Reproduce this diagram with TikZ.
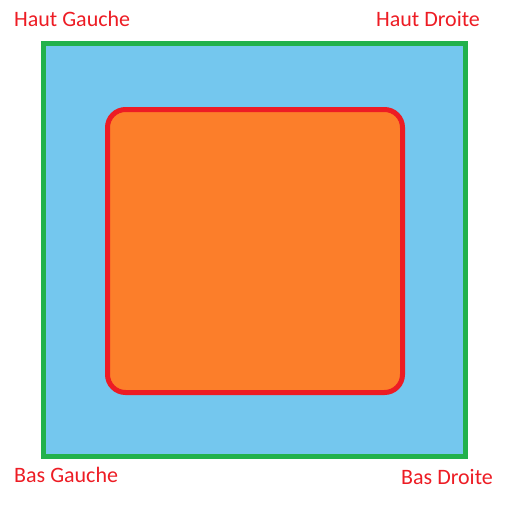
\documentclass[tikz,border=0pt]{standalone}
\usepackage{fontspec}
\setmainfont{Carlito}
\usepackage{tikz}
\usetikzlibrary{positioning}
\definecolor{paintred}{HTML}{ED1C24}
\definecolor{paintgreen}{HTML}{22B14C}
\definecolor{crayonblue}{HTML}{74C7EE}
\definecolor{crayonorange}{HTML}{FC7E2A}

\begin{document}
\begin{tikzpicture}[
    x=1pt, y=-1pt,
    corner/.style={anchor=base west, inner sep=0pt, text=paintred,
                   font=\fontsize{22}{22}\selectfont},
    frame/.style={line width=5pt, draw=paintgreen, fill=crayonblue},
    inner/.style={line width=5pt, draw=paintred, fill=crayonorange,
                  rounded corners=18pt},
]
\useasboundingbox (0,0) rectangle (512,512);

% Outer square
\draw[frame] (43.5,43.5) rectangle (465.5,456);

% Inner square
\draw[inner] (107.5,109.5) rectangle (402.5,392.5);

% Corner labels
\node[corner] (hg) at (14,26) {Haut Gauche};
\node[corner] (hd) at (376,26) {Haut Droite};
\node[corner] (bg) at (14,482) {Bas Gauche};
\node[corner] (bd) at (401,484) {Bas Droite};

\end{tikzpicture}
\end{document}
